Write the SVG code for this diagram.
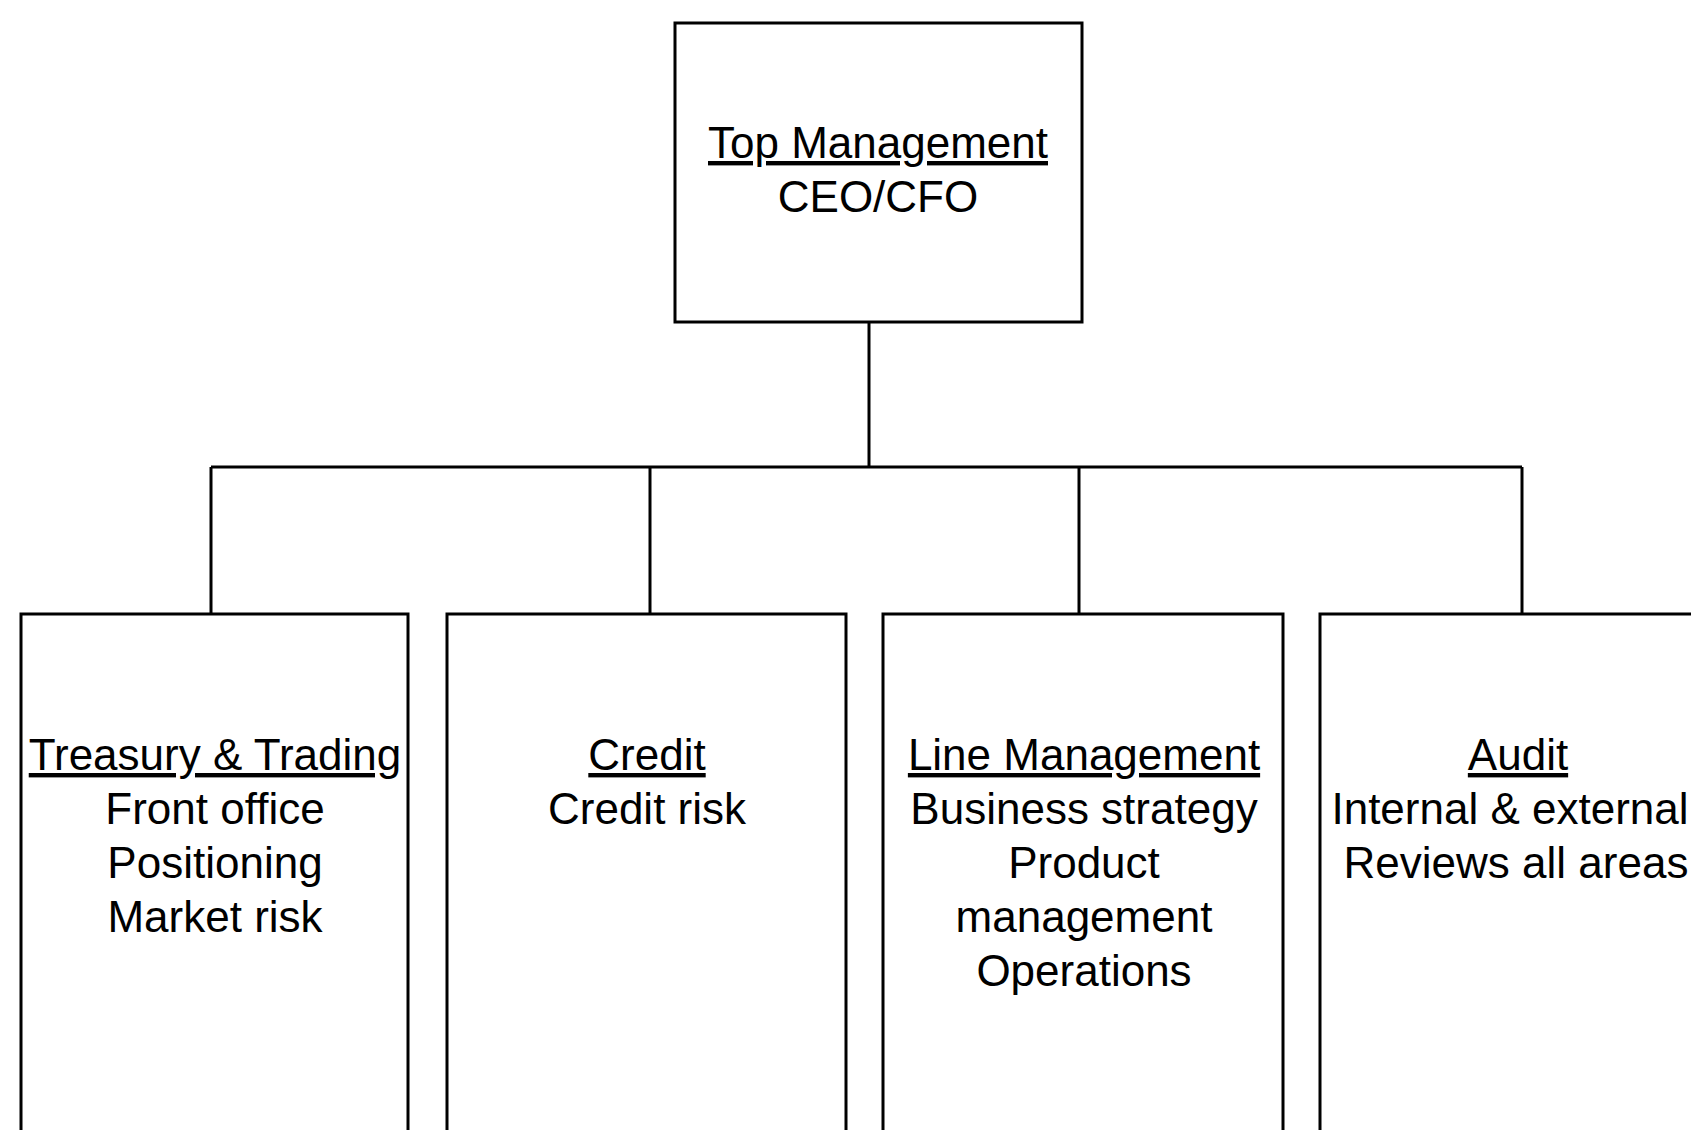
<svg xmlns="http://www.w3.org/2000/svg" width="1691" height="1130" viewBox="0 0 1691 1130">
<style>
.box{fill:#fff;stroke:#000;stroke-width:3}
.con{fill:none;stroke:#000;stroke-width:3}
text{font-family:"Liberation Sans",Arial,sans-serif;font-size:44px;fill:#000;text-anchor:middle}
.h{text-decoration:underline}
</style>
<rect x="0" y="0" width="1691" height="1130" fill="#fff"/>
<g id="connectors">
<path class="con" d="M869 322 V467"/>
<path class="con" d="M211 467 H1522"/>
<path class="con" d="M211 467 V614"/>
<path class="con" d="M650 467 V614"/>
<path class="con" d="M1079 467 V614"/>
<path class="con" d="M1522 467 V614"/>
</g>
<g id="top-management">
<rect class="box" x="675" y="23" width="407" height="299"/>
<text x="878" y="158"><tspan class="h">Top Management</tspan></text>
<text x="878" y="212">CEO/CFO</text>
</g>
<g id="treasury-trading">
<rect class="box" x="21" y="614" width="387" height="560"/>
<text x="215" y="770"><tspan class="h">Treasury &amp; Trading</tspan></text>
<text x="215" y="824">Front office</text>
<text x="215" y="878">Positioning</text>
<text x="215" y="932">Market risk</text>
</g>
<g id="credit">
<rect class="box" x="447" y="614" width="399" height="560"/>
<text x="647" y="770"><tspan class="h">Credit</tspan></text>
<text x="647" y="824">Credit risk</text>
</g>
<g id="line-management">
<rect class="box" x="883" y="614" width="400" height="560"/>
<text x="1084" y="770"><tspan class="h">Line Management</tspan></text>
<text x="1084" y="824">Business strategy</text>
<text x="1084" y="878">Product</text>
<text x="1084" y="932">management</text>
<text x="1084" y="986">Operations</text>
</g>
<g id="audit">
<rect class="box" x="1320" y="614" width="400" height="560"/>
<text x="1518" y="770"><tspan class="h">Audit</tspan></text>
<text x="1510" y="824">Internal &amp; external</text>
<text x="1516" y="878">Reviews all areas</text>
</g>
</svg>
